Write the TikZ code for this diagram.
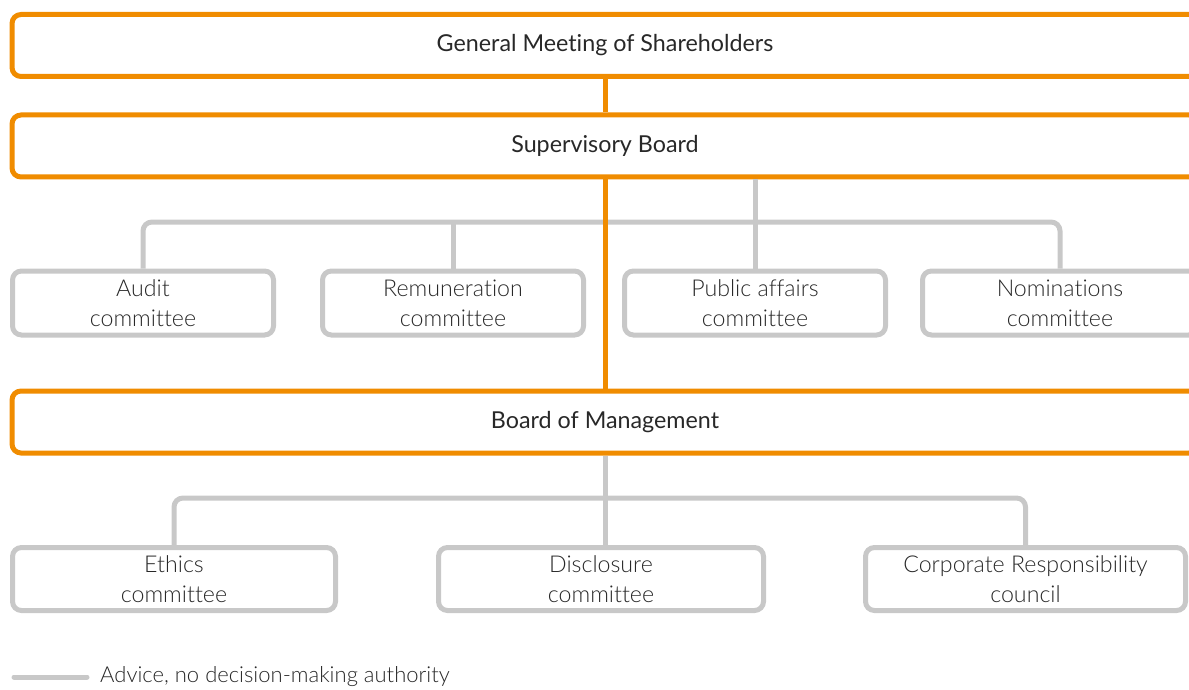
\documentclass[tikz,border=0pt]{standalone}
\usepackage{fontspec}
\setmainfont{Lato}[Ligatures=NoCommon]
\newfontfamily\lightfont{Lato Light}[Ligatures=NoCommon]
\definecolor{orng}{RGB}{240,140,0}
\definecolor{gry}{RGB}{200,200,200}
\definecolor{txt}{RGB}{40,40,40}
\begin{document}
\begin{tikzpicture}[x=1pt,y=-1pt,
  mainbox/.style={draw=orng, line width=5pt, rounded corners=9pt, minimum width=1186pt, minimum height=62pt, inner sep=0pt, text=txt, font=\fontsize{23.3}{27}\selectfont},
  combox/.style={draw=gry, line width=5pt, rounded corners=9pt, minimum height=64pt, inner sep=0pt, text=txt, align=center, font=\lightfont\fontsize{23.2}{30}\selectfont},
  orline/.style={draw=orng, line width=5pt},
  grline/.style={draw=gry, line width=5pt, rounded corners=9pt}]
\useasboundingbox (0,0) rectangle (1189,690);
\clip (0,0) rectangle (1189,690);
% main boxes
\node[mainbox] (gms) at (605,45.5) {General Meeting of Shareholders};
\node[mainbox] (sb) at (605,146) {Supervisory Board};
\node[mainbox] (bom) at (605,422) {Board of Management};
% supervisory committees
\node[combox, minimum width=261pt] (audit) at (143,303) {Audit\\committee};
\node[combox, minimum width=261pt] (remun) at (453,303) {Remuneration\\committee};
\node[combox, minimum width=261pt] (public) at (755,303) {Public affairs\\committee};
\node[combox, minimum width=275pt] (nomin) at (1060,303) {Nominations\\committee};
% management committees
\node[combox, minimum width=323pt, minimum height=63pt] (ethics) at (174,579) {Ethics\\committee};
\node[combox, minimum width=325pt, minimum height=63pt] (discl) at (601,579) {Disclosure\\committee};
\node[combox, minimum width=320pt, minimum height=63pt] (crc) at (1025.5,579) {Corporate Responsibility\\council};
% gray advice connectors
\coordinate (hs) at (604,222);
\coordinate (hm) at (604,498);
\draw[grline] (audit.north) |- (hs) -| (nomin.north);
\draw[grline] (remun.north) -- (remun.north |- hs);
\draw[grline, rounded corners=0pt] (sb.south -| public.north) -- (public.north);
\draw[grline] (ethics.north) |- (hm) -| (crc.north);
\draw[grline, rounded corners=0pt] (bom.south) -- (bom.south |- discl.north);
% orange authority connectors
\draw[orline] (gms.south) -- (sb.north);
\draw[orline] (sb.south) -- (bom.north);
% legend
\coordinate (l1) at (14,677);
\coordinate (l2) at (87,677);
\draw[draw=gry, line width=5pt, line cap=round] (l1) -- (l2);
\node[anchor=west, text=txt, inner sep=0pt, font=\lightfont\fontsize{22}{24}\selectfont] (leg) at (100,677) {Advice, no decision-making authority};
\end{tikzpicture}
\end{document}
